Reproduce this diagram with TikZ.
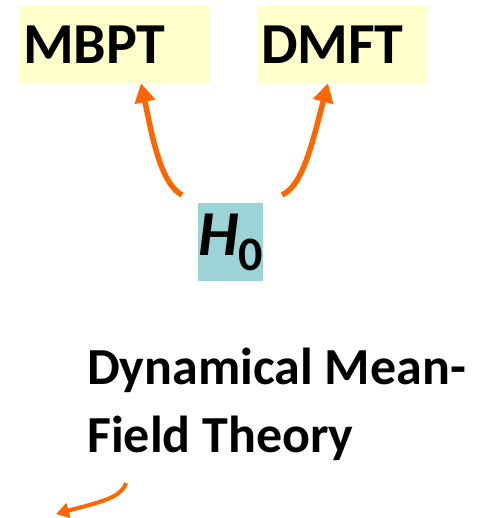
\documentclass[tikz,border=0pt]{standalone}
\usepackage{fontspec}
\setmainfont{Carlito}
\usetikzlibrary{arrows.meta,positioning}
\definecolor{boxyellow}{HTML}{FFFFCC}
\definecolor{boxteal}{HTML}{9CD3D7}
\definecolor{arrorange}{HTML}{FF6600}
\begin{document}
\begin{tikzpicture}[x=1pt,y=-1pt,
    method/.style={fill=boxyellow,minimum height=77pt,inner xsep=3pt,inner ysep=0pt,
      align=left,font=\fontsize{58}{58}\selectfont\bfseries},
    flow/.style={draw=arrorange,line width=5.5pt,-{Triangle[width=20pt,length=19pt]}},
    smallflow/.style={draw=arrorange,line width=4pt,-{Triangle[width=15pt,length=13pt]}}]
    \useasboundingbox (0,0) rectangle (477,518);

    \node[method,text width=184pt] (mbpt) at (115,44.5) {MBPT};
    \node[method,text width=164pt] (dmft) at (343,44.5) {DMFT};
    \node[fill=boxteal,minimum width=63pt,minimum height=78pt,inner sep=0pt] (h0) at (230.5,242)
      {\fontsize{64}{64}\selectfont\bfseries\itshape H\kern0pt\raisebox{-15pt}{\fontsize{48}{48}\selectfont\upshape 0}};

    \node[anchor=north west,align=left,inner sep=0pt,
      font=\fontsize{52}{68}\selectfont\bfseries] (dmfttext) at (87,348)
      {Dynamical Mean-\\Field Theory};

    % arrows from H0 up to the two methods
    \coordinate (s1) at (182,195);
    \coordinate (s2) at (282,195);
    \coordinate (s3) at (126,483);
    \coordinate (e3) at (56,514);
    \draw[flow] (s1) .. controls (160,183) and (152,135) .. (mbpt.south west -| 141,0);
    \draw[flow] (s2) .. controls (303,186) and (313,140) .. (dmft.south west -| 328,0);
    \draw[smallflow] (s3) .. controls (121,498) and (100,502) .. (e3);
\end{tikzpicture}
\end{document}
